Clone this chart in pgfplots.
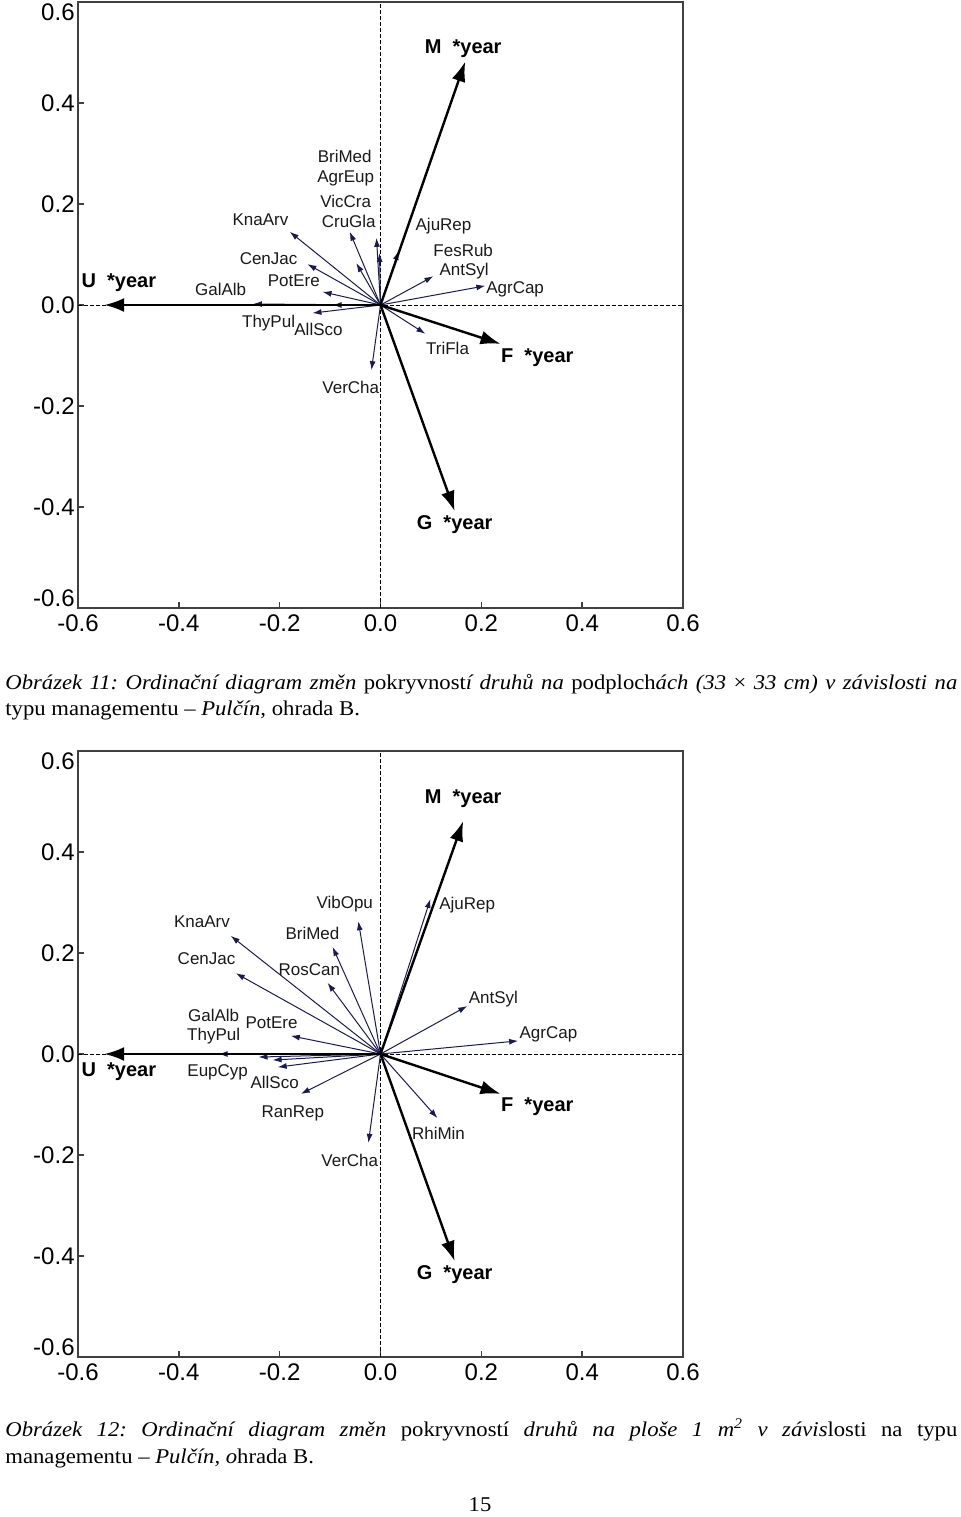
\documentclass[border=0pt]{standalone}
\usepackage{fontspec}
\setmainfont{Liberation Serif}[FakeStretch=1.08]
\newfontfamily\arial{Liberation Sans}
\usepackage{pgfplots}
\usepackage{pgfplotstable}
\pgfplotsset{compat=1.18}
\usetikzlibrary{arrows.meta}
\definecolor{navy}{HTML}{1B1B4B}

% species arrows (origin x y, direction u v)
\pgfplotstableread{
x y u v
0 0 -0.180 0.145
0 0 -0.145 0.081
0 0 -0.115 0.026
0 0 -0.253 0.002
0 0 -0.095 0.000
0 0 -0.135 -0.016
0 0 -0.061 0.145
0 0 -0.008 0.133
0 0 -0.002 0.103
0 0 -0.048 0.083
0 0 0.036 0.107
0 0 0.105 0.057
0 0 0.208 0.038
0 0 0.089 -0.057
0 0 -0.018 -0.129
}\topspecies
\pgfplotstableread{
x y u v
0 0 0.168 0.482
0 0 -0.548 0.000
0 0 0.238 -0.077
0 0 0.147 -0.408
}\topmain
\pgfplotstableread{
x y u v
0 0 -0.297 0.234
0 0 -0.287 0.160
0 0 -0.105 0.141
0 0 -0.095 0.212
0 0 -0.044 0.263
0 0 -0.178 0.036
0 0 -0.321 0.000
0 0 -0.242 -0.006
0 0 -0.214 -0.012
0 0 -0.204 -0.026
0 0 -0.158 -0.079
0 0 -0.024 -0.176
0 0 0.113 -0.127
0 0 0.099 0.307
0 0 0.172 0.095
0 0 0.273 0.026
}\botspecies
\pgfplotstableread{
x y u v
0 0 0.164 0.461
0 0 -0.548 0.000
0 0 0.238 -0.079
0 0 0.147 -0.410
}\botmain

\pgfplotsset{
  ordstyle/.style={
    scale only axis, width=302.5pt, height=303pt,
    anchor=south west,
    xmin=-0.6, xmax=0.6, ymin=-0.6, ymax=0.6,
    xtick={-0.6,-0.4,-0.2,0,0.2,0.4,0.6},
    ytick={-0.6,-0.4,-0.2,0,0.2,0.4,0.6},
    xticklabels={-0.6,-0.4,-0.2,0.0,0.2,0.4,0.6},
    yticklabels={\raisebox{5pt}[\height][\depth]{-0.6},-0.4,-0.2,0.0,0.2,0.4,\raisebox{-5pt}[\height][\depth]{0.6}},
    tick label style={font=\arial\fontsize{12}{14}\selectfont},
    yticklabel style={inner xsep=1.5pt},
    xticklabel style={inner ysep=3pt},
    xtick pos=bottom, ytick pos=left,
    tick align=inside, major tick length=3pt,
    tick style={black!75, line width=0.8pt},
    axis line style={black!75, line width=0.9pt},
    clip=false,
  },
  sp/.style={navy, line width=0.5pt, -{Latex[length=4.5pt,width=3pt]}, quiver={u=\thisrow{u}, v=\thisrow{v}}},
  mn/.style={black, line width=1.2pt, -{Latex[length=10pt,width=7pt]}, quiver={u=\thisrow{u}, v=\thisrow{v}}},
  zl/.style={black, line width=0.5pt, dash pattern=on 2pt off 1pt},
}
\tikzset{
  lab/.style={font=\arial\fontsize{8.5}{10}\selectfont, text=black!90, inner sep=0pt},
  big/.style={font=\arial\bfseries\fontsize{10}{12}\selectfont, inner sep=0pt},
}

\begin{document}
\frenchspacing
\begin{tikzpicture}
\path[use as bounding box] (0,0) rectangle (480pt,-758.5pt);

% ---------- top diagram ----------
\begin{axis}[ordstyle, at={(39pt,-304pt)}]
\addplot[zl] coordinates {(0,-0.6) (0,0.6)};
\addplot[zl] coordinates {(-0.6,0) (0.6,0)};
\addplot[sp] table[x=x,y=y] {\topspecies};
\addplot[mn] table[x=x,y=y] {\topmain};
\node[big] at (axis cs:0.164,0.507) {M\ \ *year};
\node[big] at (axis cs:-0.519,0.044) {U\ \ *year};
\node[big] at (axis cs:0.311,-0.105) {F\ \ *year};
\node[big] at (axis cs:0.147,-0.434) {G\ \ *year};
\node[lab] at (axis cs:-0.071,0.295) {BriMed};
\node[lab] at (axis cs:-0.069,0.250) {AgrEup};
\node[lab] at (axis cs:-0.069,0.206) {VicCra};
\node[lab] at (axis cs:-0.063,0.166) {CruGla};
\node[lab] at (axis cs:-0.238,0.168) {KnaArv};
\node[lab] at (axis cs:-0.222,0.091) {CenJac};
\node[lab] at (axis cs:-0.172,0.048) {PotEre};
\node[lab] at (axis cs:-0.317,0.030) {GalAlb};
\node[lab] at (axis cs:-0.222,-0.036) {ThyPul};
\node[lab] at (axis cs:-0.123,-0.048) {AllSco};
\node[lab] at (axis cs:-0.059,-0.164) {VerCha};
\node[lab] at (axis cs:0.125,0.156) {AjuRep};
\node[lab] at (axis cs:0.164,0.109) {FesRub};
\node[lab] at (axis cs:0.166,0.067) {AntSyl};
\node[lab] at (axis cs:0.267,0.032) {AgrCap};
\node[lab] at (axis cs:0.133,-0.085) {TriFla};
\end{axis}

\node[anchor=base west, text width=476pt, align=justify, inner sep=0pt,
      font=\fontsize{10.5}{13}\selectfont] at (2.5pt,-344.5pt)
 {\textit{Obrázek 11: Ordinační diagram změn} pokryvnost\textit{í druhů na} podploch\textit{ách (33} × \textit{33 cm) v závislosti na}\linebreak
 typu managementu – \textit{Pulčín,} ohrada B.};

% ---------- bottom diagram ----------
\begin{axis}[ordstyle, at={(39pt,-678.5pt)}]
\addplot[zl] coordinates {(0,-0.6) (0,0.6)};
\addplot[zl] coordinates {(-0.6,0) (0.6,0)};
\addplot[sp] table[x=x,y=y] {\botspecies};
\addplot[mn] table[x=x,y=y] {\botmain};
\node[big] at (axis cs:0.164,0.505) {M\ \ *year};
\node[big] at (axis cs:-0.519,-0.036) {U\ \ *year};
\node[big] at (axis cs:0.311,-0.105) {F\ \ *year};
\node[big] at (axis cs:0.147,-0.436) {G\ \ *year};
\node[lab] at (axis cs:-0.071,0.297) {VibOpu};
\node[lab] at (axis cs:-0.354,0.261) {KnaArv};
\node[lab] at (axis cs:-0.135,0.238) {BriMed};
\node[lab] at (axis cs:-0.345,0.188) {CenJac};
\node[lab] at (axis cs:-0.141,0.168) {RosCan};
\node[lab] at (axis cs:-0.331,0.077) {GalAlb};
\node[lab] at (axis cs:-0.331,0.036) {ThyPul};
\node[lab] at (axis cs:-0.216,0.061) {PotEre};
\node[lab] at (axis cs:-0.323,-0.036) {EupCyp};
\node[lab] at (axis cs:-0.210,-0.057) {AllSco};
\node[lab] at (axis cs:-0.174,-0.117) {RanRep};
\node[lab] at (axis cs:-0.061,-0.210) {VerCha};
\node[lab] at (axis cs:0.115,-0.158) {RhiMin};
\node[lab] at (axis cs:0.172,0.295) {AjuRep};
\node[lab] at (axis cs:0.224,0.109) {AntSyl};
\node[lab] at (axis cs:0.333,0.038) {AgrCap};
\end{axis}

\node[anchor=base west, text width=476pt, align=justify, inner sep=0pt,
      font=\fontsize{10.5}{13.5}\selectfont] at (2.5pt,-718pt)
 {\textit{Obrázek 12: Ordinační diagram změn} pokryvností \textit{druhů na ploše 1 m\textsuperscript{2} v závis}losti na typu\linebreak
 managementu – \textit{Pulčín, o}hrada B.};

\node[font=\fontsize{10.5}{12}\selectfont, inner sep=0pt] at (240pt,-752.5pt) {15};
\end{tikzpicture}
\end{document}
